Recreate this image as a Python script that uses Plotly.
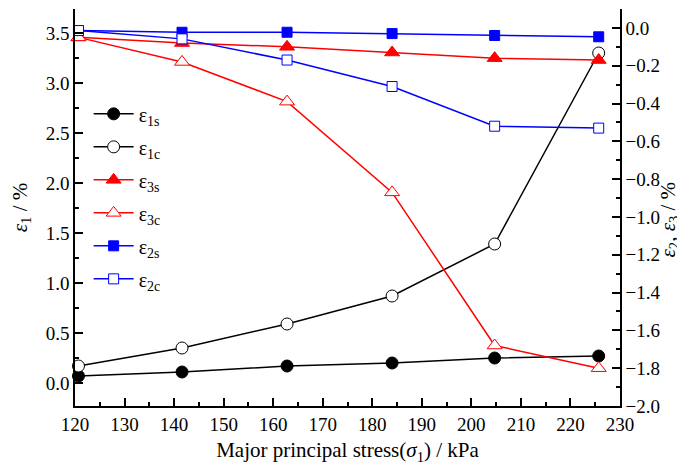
import plotly.graph_objects as go

stress = [120.7, 141.6, 162.8, 184.0, 204.7, 225.7]
eps1s = [0.07, 0.11, 0.17, 0.20, 0.25, 0.27]
eps1c = [0.17, 0.35, 0.59, 0.87, 1.39, 3.30]
eps3s = [-0.05, -0.08, -0.10, -0.13, -0.16, -0.17]
eps3c = [-0.05, -0.18, -0.39, -0.87, -1.68, -1.80]
eps2s = [-0.014, -0.023, -0.023, -0.03, -0.04, -0.047]
eps2c = [-0.014, -0.058, -0.17, -0.31, -0.52, -0.53]

names = ["ε<sub>1s</sub>", "ε<sub>1c</sub>", "ε<sub>3s</sub>", "ε<sub>3c</sub>", "ε<sub>2s</sub>", "ε<sub>2c</sub>"]

FONT = "Liberation Serif, Times New Roman, serif"
BLACK, RED, BLUE = "#000000", "#ff0000", "#0000ff"

fig = go.Figure()

def add(y, name, color, symbol, filled, axis, size):
    fig.add_trace(go.Scatter(
        x=stress, y=y, name=name, mode="lines+markers", yaxis=axis,
        legendgroup=name,
        line=dict(color=color, width=1.5),
        marker=dict(symbol=symbol, size=size,
                    color=color if filled else "white",
                    line=dict(color=color, width=1)),
        cliponaxis=False,
    ))

add(eps1s, names[0], BLACK, "circle", True, "y", 12)
add(eps1c, names[1], BLACK, "circle", False, "y", 12)
add(eps3s, names[2], RED, "triangle-up", True, "y2", 13)
add(eps3c, names[3], RED, "triangle-up", False, "y2", 13)
add(eps2s, names[4], BLUE, "square", True, "y2", 10)
add(eps2c, names[5], BLUE, "square", False, "y2", 10)

tickfont = dict(family=FONT, size=19, color="black")
titlefont = dict(family=FONT, size=21, color="black")

fig.update_layout(
    width=685, height=467,
    margin=dict(l=67, r=73, t=1, b=69),
    paper_bgcolor="white", plot_bgcolor="white",
    font=dict(family=FONT, size=19, color="black"),
    showlegend=True,
    legend=dict(x=0.025, y=0.785, xanchor="left", yanchor="top",
                bgcolor="rgba(0,0,0,0)", font=dict(family=FONT, size=20),
                tracegroupgap=4, itemwidth=40),
    xaxis=dict(range=[120, 230], dtick=10, tick0=120,
               showline=True, linecolor="black", linewidth=1.5,
               ticks="inside", ticklen=8, tickwidth=1.5, tickcolor="black",
               minor=dict(dtick=5, ticks="inside", ticklen=4, tickwidth=1.5, tickcolor="black"),
               showgrid=False, zeroline=False, tickfont=tickfont,
               title=dict(text="Major principal stress(<i>σ</i><sub>1</sub>) / kPa",
                          font=titlefont, standoff=9)),
    yaxis=dict(range=[-0.23, 3.74], dtick=0.5, tick0=0, tickformat=".1f",
               showline=True, linecolor="black", linewidth=1.5,
               ticks="inside", ticklen=8, tickwidth=1.5, tickcolor="black",
               minor=dict(dtick=0.25, ticks="inside", ticklen=4, tickwidth=1.5, tickcolor="black"),
               showgrid=False, zeroline=False, tickfont=tickfont,
               title=dict(text="<i>ε</i><sub>1</sub> / %", font=titlefont, standoff=16)),
    yaxis2=dict(range=[-2.0, 0.1], dtick=0.2, tick0=0, tickformat=".1f",
                overlaying="y", side="right",
                showline=True, linecolor="black", linewidth=1.5,
                ticks="inside", ticklen=8, tickwidth=1.5, tickcolor="black",
                minor=dict(dtick=0.1, ticks="inside", ticklen=4, tickwidth=1.5, tickcolor="black"),
                showgrid=False, zeroline=False, tickfont=tickfont),
    annotations=[dict(text="<i>ε</i><sub>2</sub>, <i>ε</i><sub>3</sub> / %",
                      xref="paper", yref="paper", x=1.09, y=0.47,
                      xanchor="center", yanchor="middle", textangle=-90,
                      showarrow=False, font=titlefont)],
)

fig.write_html("out.html")
